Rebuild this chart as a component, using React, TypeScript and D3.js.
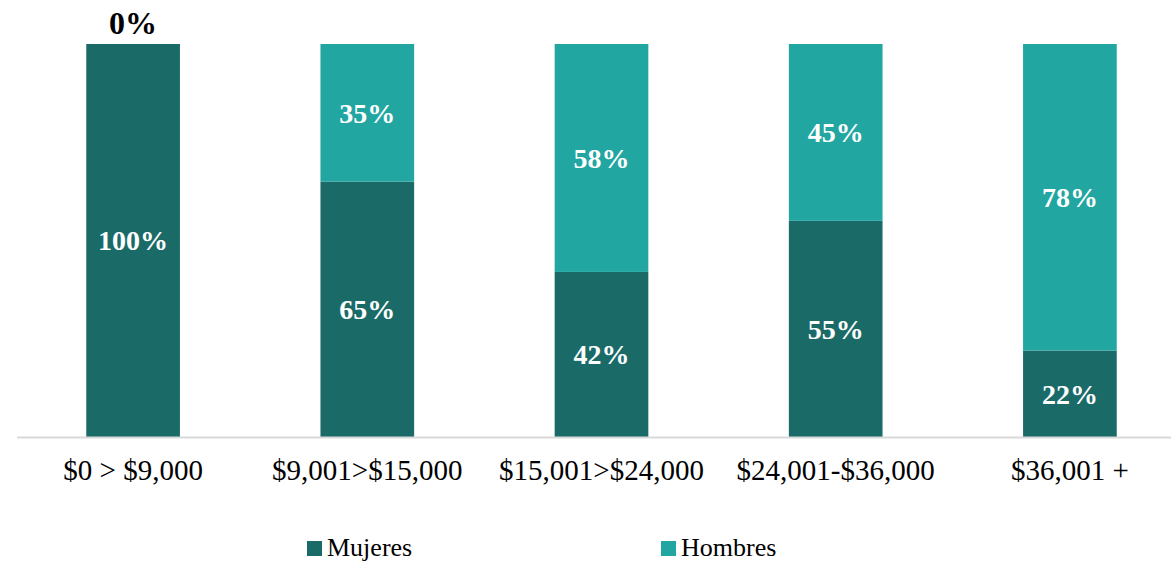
import React from "react";
import * as d3 from "d3";

const categories = ["$0 > $9,000", "$9,001>$15,000", "$15,001>$24,000", "$24,001-$36,000", "$36,001 +"];
const mujeres = [100, 65, 42, 55, 22];
const hombres = [0, 35, 58, 45, 78];
const seriesNames = ["Mujeres", "Hombres"];
const seriesColors = ["#1a6b68", "#22a6a2"];

const W = 1171;
const H = 562;

export default function App() {
  const x = d3.scaleBand<string>().domain(categories).range([16, 1187]).paddingInner(0.6).paddingOuter(0.3);
  const y = d3.scaleLinear().domain([0, 100]).range([437, 44]);
  const rows = categories.map((c, i) => ({ cat: c, Mujeres: mujeres[i], Hombres: hombres[i] }));
  const stack = d3.stack<any>().keys(seriesNames)(rows);
  const font = "'Liberation Serif', 'Times New Roman', serif";
  const legendX = [307, 661];

  return (
    <div style={{ position: "absolute", left: 0, top: 0 }}>
      <svg width={W} height={H} style={{ display: "block", background: "#fff" }}>
        {stack.map((layer, si) => (
          <g key={layer.key}>
            {layer.map((d, i) => {
              const x0 = x(categories[i])!;
              const y0 = y(d[0]);
              const y1 = y(d[1]);
              return <rect key={i} x={x0} y={y1} width={x.bandwidth()} height={Math.max(0, y0 - y1)} fill={seriesColors[si]} />;
            })}
          </g>
        ))}
        <line x1={17} x2={W} y1={437.5} y2={437.5} stroke="#d9d9d9" strokeWidth={2} />
        {stack.map((layer, si) => (
          <g key={"l" + layer.key}>
            {layer.map((d, i) => {
              const v = d[1] - d[0];
              const cx = x(categories[i])! + x.bandwidth() / 2;
              if (v === 0) {
                return (
                  <text key={i} x={cx} y={y(d[1]) - 10} textAnchor="middle" fontFamily={font} fontWeight="bold" fontSize={32} fill="#000">
                    {v + "%"}
                  </text>
                );
              }
              const cy = (y(d[0]) + y(d[1])) / 2;
              return (
                <text key={i} x={cx} y={cy} dy="0.35em" textAnchor="middle" fontFamily={font} fontWeight="bold" fontSize={28} fill="#fff">
                  {v + "%"}
                </text>
              );
            })}
          </g>
        ))}
        {categories.map((c) => (
          <text key={c} x={x(c)! + x.bandwidth() / 2} y={480} textAnchor="middle" fontFamily={font} fontSize={29} fill="#000">
            {c}
          </text>
        ))}
        {seriesNames.map((s, i) => (
          <g key={s}>
            <rect x={legendX[i]} y={541} width={15} height={15} fill={seriesColors[i]} />
            <text x={legendX[i] + 20} y={556} fontFamily={font} fontSize={26} fill="#000">
              {s}
            </text>
          </g>
        ))}
      </svg>
    </div>
  );
}
